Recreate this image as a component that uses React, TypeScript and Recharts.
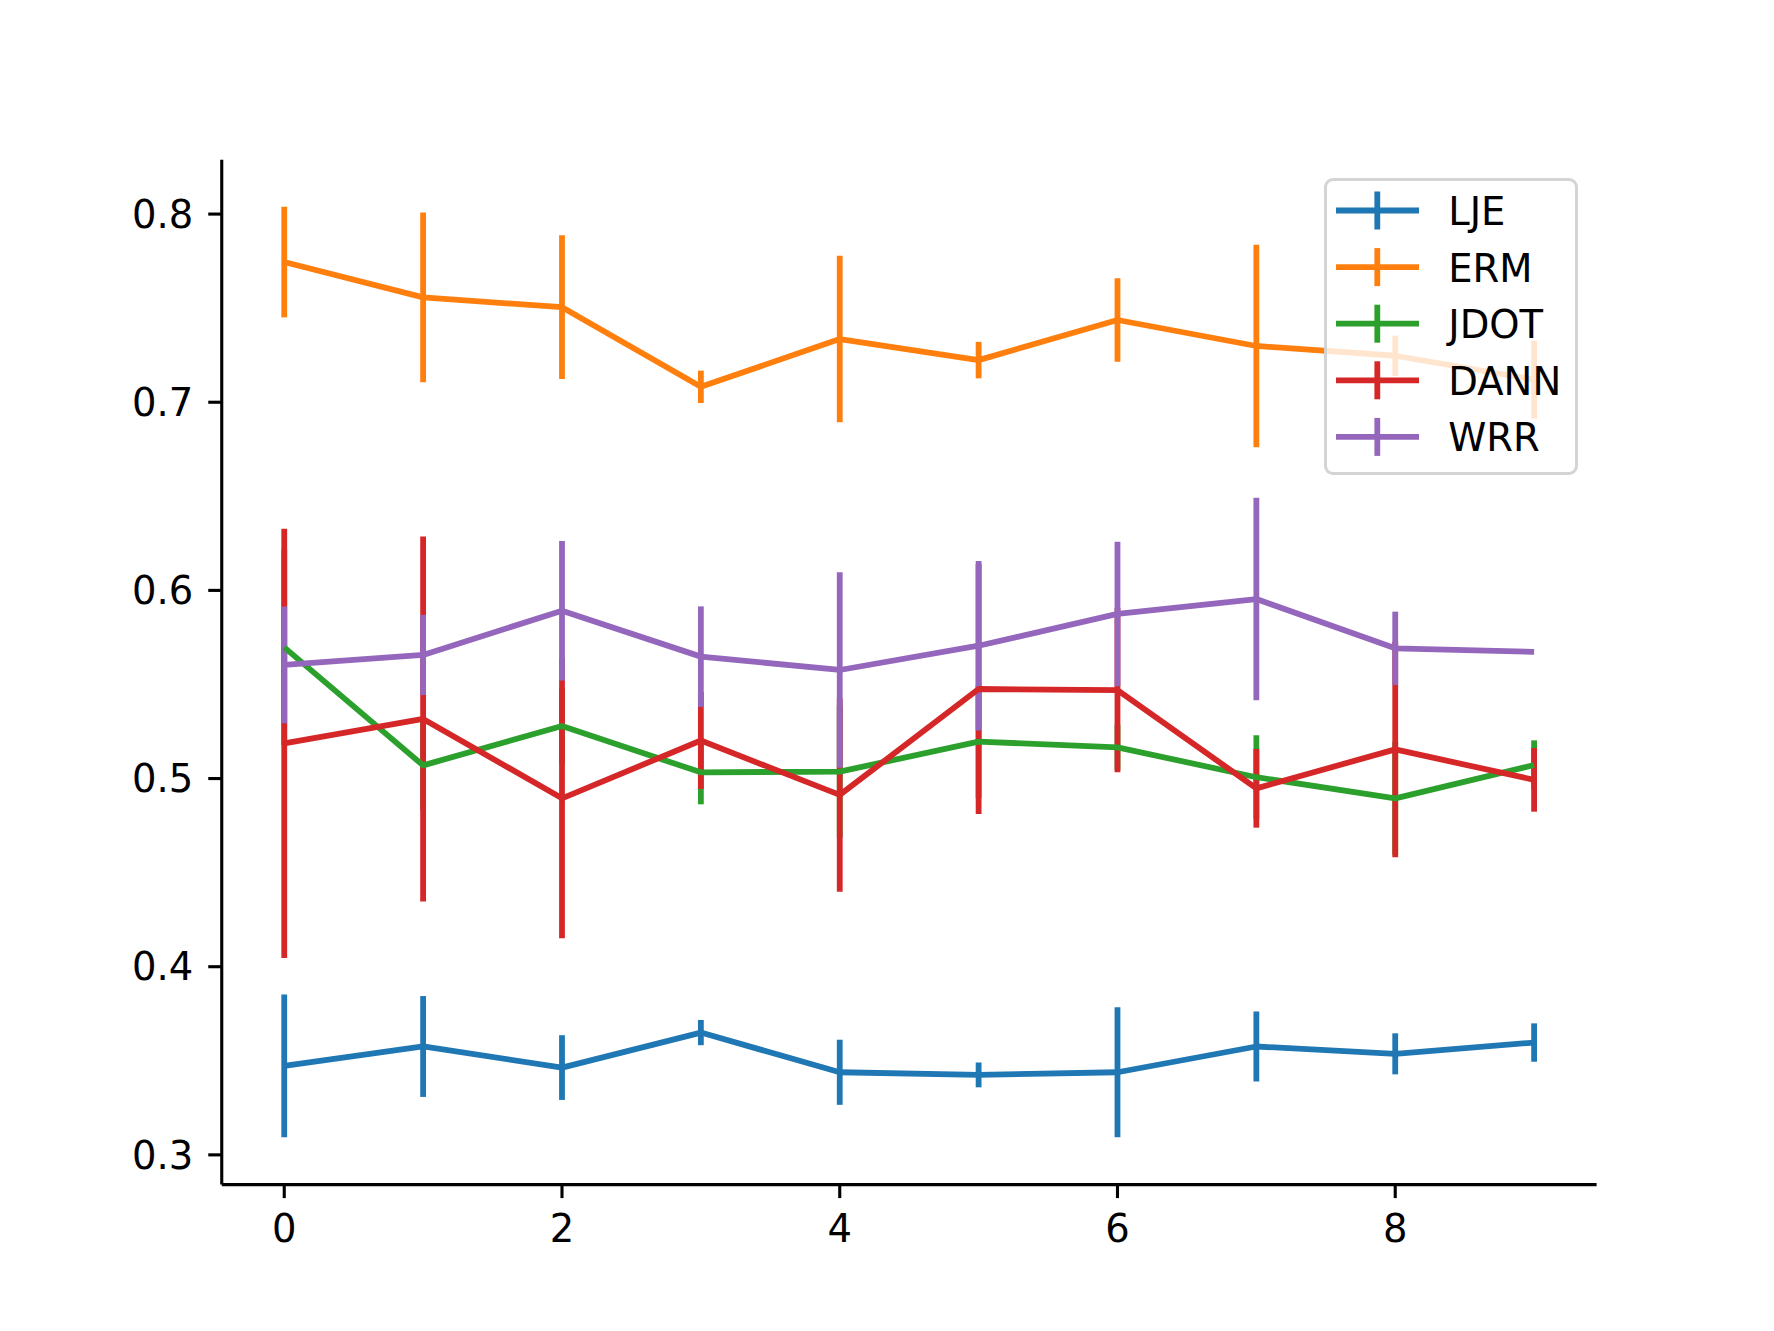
import React from 'react';
import { LineChart, Line, XAxis, YAxis, ErrorBar, Legend } from 'recharts';

const steps = [0, 1, 2, 3, 4, 5, 6, 7, 8, 9];
const xTicks = [0, 2, 4, 6, 8];
const yTicks = [0.3, 0.4, 0.5, 0.6, 0.7, 0.8];

const ljeMean = [0.3473, 0.3576, 0.3464, 0.365, 0.3439, 0.3425, 0.3439, 0.3576, 0.3537, 0.3597];
const ljeErr = [0.0379, 0.0268, 0.0172, 0.0067, 0.0173, 0.0066, 0.0345, 0.0186, 0.0109, 0.0102];
const ermMean = [0.7745, 0.7557, 0.7505, 0.7082, 0.7336, 0.7224, 0.7437, 0.7299, 0.7247, 0.712];
const ermErr = [0.0294, 0.0451, 0.0382, 0.0086, 0.0442, 0.0097, 0.0222, 0.0538, 0.0107, 0.0207];
const jdotMean = [0.5697, 0.507, 0.5279, 0.5033, 0.5037, 0.5196, 0.5166, 0.5007, 0.4895, 0.5072];
const jdotErr = [0.052, 0.024, 0.02, 0.017, 0.035, 0.03, 0.012, 0.0223, 0.03, 0.0131];
const dannMean = [0.5187, 0.5317, 0.4895, 0.5202, 0.4913, 0.5476, 0.547, 0.4948, 0.5155, 0.4993];
const dannErr = [0.1141, 0.097, 0.0744, 0.0257, 0.0514, 0.0664, 0.0437, 0.0209, 0.0573, 0.0169];
const wrrMean = [0.5604, 0.5657, 0.5892, 0.5648, 0.5577, 0.5706, 0.5875, 0.5954, 0.5692, 0.5673];
const wrrErr = [0.031, 0.0213, 0.0371, 0.0267, 0.052, 0.045, 0.0384, 0.0538, 0.0195, 0];

const seriesNames = ['LJE', 'ERM', 'JDOT', 'DANN', 'WRR'];
const seriesKeys = ['lje', 'erm', 'jdot', 'dann', 'wrr'];
const seriesColors = ['#1f77b4', '#ff7f0e', '#2ca02c', '#d62728', '#9467bd'];
const seriesMeans = [ljeMean, ermMean, jdotMean, dannMean, wrrMean];
const seriesErrs = [ljeErr, ermErr, jdotErr, dannErr, wrrErr];

const data = steps.map((x, i) => {
  const row: Record<string, number> = { x };
  seriesKeys.forEach((k, s) => {
    row[k] = seriesMeans[s][i];
    row[k + 'Err'] = seriesErrs[s][i];
  });
  return row;
});

const LW = 5.8;
const FONT = '"DejaVu Sans", sans-serif';
const FS = 38.5;
const LEG_W = 254;
const LEG_H = 297;

const renderLegend = () => (
  <div
    style={{
      width: LEG_W,
      height: LEG_H,
      boxSizing: 'border-box',
      border: '3.1px solid rgba(204,204,204,0.85)',
      borderRadius: 9,
      background: 'rgba(255,255,255,0.8)',
      position: 'relative',
    }}
  >
    <svg width={LEG_W} height={LEG_H} style={{ position: 'absolute', left: -3.1, top: -3.1, overflow: 'visible' }}>
      {seriesNames.map((name, i) => {
        const cy = 33.5 + i * 56.6;
        return (
          <g key={name}>
            <line x1={12} x2={95} y1={cy} y2={cy} stroke={seriesColors[i]} strokeWidth={LW} />
            <line x1={53.3} x2={53.3} y1={cy - 19} y2={cy + 19} stroke={seriesColors[i]} strokeWidth={LW} />
            <text x={124.3} y={cy + 1} dominantBaseline="central" fontFamily={FONT} fontSize={FS} fill="#000">
              {name}
            </text>
          </g>
        );
      })}
    </svg>
  </div>
);

export default function App() {
  return (
    <div style={{ position: 'absolute', left: 0, top: 0, width: 1774, height: 1331, background: '#fff' }}>
      <LineChart
        width={1774}
        height={1331}
        data={data}
        margin={{ top: 159.7, right: 177.4, bottom: 86.4, left: 121.75 }}
      >
        <XAxis
          type="number"
          dataKey="x"
          domain={[-0.45, 9.45]}
          ticks={xTicks}
          allowDataOverflow
          height={60}
          tickSize={13.5}
          tickMargin={17}
          axisLine={{ stroke: '#000', strokeWidth: 3.1 }}
          tickLine={{ stroke: '#000', strokeWidth: 3.1 }}
          tick={{ fill: '#000', fontSize: FS, fontFamily: FONT }}
        />
        <YAxis
          type="number"
          domain={[0.2842, 0.8289]}
          ticks={yTicks}
          allowDataOverflow
          width={100}
          tickSize={13.5}
          tickMargin={15}
          tickFormatter={(v: number) => v.toFixed(1)}
          axisLine={{ stroke: '#000', strokeWidth: 3.1 }}
          tickLine={{ stroke: '#000', strokeWidth: 3.1 }}
          tick={{ fill: '#000', fontSize: FS, fontFamily: FONT }}
        />
        {seriesKeys.map((k, s) => (
          <Line
            key={k + '-bars'}
            dataKey={k}
            stroke="none"
            dot={false}
            activeDot={false}
            legendType="none"
            isAnimationActive={false}
          >
            <ErrorBar
              dataKey={k + 'Err'}
              direction="y"
              width={0}
              stroke={seriesColors[s]}
              strokeWidth={LW}
              isAnimationActive={false}
            />
          </Line>
        ))}
        {seriesKeys.map((k, s) => (
          <Line
            key={k + '-line'}
            name={seriesNames[s]}
            type="linear"
            dataKey={k}
            stroke={seriesColors[s]}
            strokeWidth={LW}
            strokeLinejoin="round"
            dot={false}
            activeDot={false}
            isAnimationActive={false}
          />
        ))}
        <Legend
          layout="vertical"
          align="center"
          verticalAlign="middle"
          content={renderLegend}
          wrapperStyle={{ left: 1324.2, top: 177.5, width: LEG_W, height: LEG_H, position: 'absolute' }}
        />
      </LineChart>
    </div>
  );
}
